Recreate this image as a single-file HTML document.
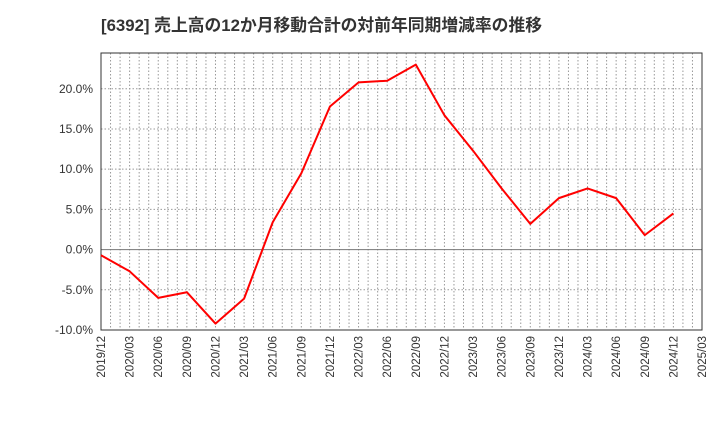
<!DOCTYPE html>
<html><head><meta charset="utf-8"><style>
body{margin:0;background:#fff;}
svg text{font-family:"Liberation Sans","Noto Sans CJK JP",sans-serif;}
</style></head><body>
<svg id="c" width="720" height="440" xmlns="http://www.w3.org/2000/svg">
<text x="101" y="31" font-size="16.8" font-weight="bold" fill="#333">[6392]  売上高の12か月移動合計の対前年同期増減率の推移</text>
<g id="grid"></g><g id="axes"></g><g id="series"></g>
</svg>
<script>
const categories=["2019/12","2020/03","2020/06","2020/09","2020/12","2021/03","2021/06","2021/09","2021/12","2022/03","2022/06","2022/09","2022/12","2023/03","2023/06","2023/09","2023/12","2024/03","2024/06","2024/09","2024/12","2025/03"];
const values=[-0.7,-2.7,-6.0,-5.3,-9.2,-6.1,3.4,9.5,17.8,20.8,21.0,23.0,16.7,12.3,7.6,3.2,6.4,7.6,6.4,1.8,4.5];
const yTicks=[-10,-5,0,5,10,15,20];
const yTickLabels=["-10.0%","-5.0%","0.0%","5.0%","10.0%","15.0%","20.0%"];
const L=101,R=702,T=53,B=330,yMin=-10,yMax=24.45;
const NS="http://www.w3.org/2000/svg";
const x=i=>L+(R-L)*i/(categories.length-1);
const y=v=>B-(v-yMin)/(yMax-yMin)*(B-T);
function mk(t,a,p){const e=document.createElementNS(NS,t);for(const k in a)e.setAttribute(k,a[k]);p.appendChild(e);return e;}
const g=document.getElementById('grid'),ax=document.getElementById('axes'),s=document.getElementById('series');
const months=(categories.length-1)*3;
for(let m=1;m<months;m++){const xx=L+(R-L)*m/months;
const l=mk('line',{x1:xx,x2:xx,y1:T,y2:B,stroke:'#999','stroke-dasharray':'1.5,2','stroke-width':1},g);

}
yTicks.forEach((v,i)=>{const yy=y(v);
const l=mk('line',{x1:L,x2:R,y1:yy,y2:yy,stroke:v===0?'#777':'#999','stroke-dasharray':v===0?'':'1.5,2','stroke-width':1},g);


const t=mk('text',{x:L-8,y:yy+4,'text-anchor':'end','font-size':12,fill:'#333'},ax);t.textContent=yTickLabels[i];

});
categories.forEach((c,i)=>{const xx=x(i)+4;
const t=mk('text',{x:xx,y:B+6,'text-anchor':'end','font-size':11.5,fill:'#333',transform:`rotate(-90 ${xx} ${B+6})`},ax);t.textContent=c;

});
const fr=mk('rect',{x:L,y:T,width:R-L,height:B-T,fill:'none',stroke:'#333','stroke-width':1},ax);


const p=mk('polyline',{points:values.map((v,i)=>x(i)+','+y(v)).join(' '),fill:'none',stroke:'#f00','stroke-width':2,'stroke-linejoin':'round'},s);


</script>
</body></html>
